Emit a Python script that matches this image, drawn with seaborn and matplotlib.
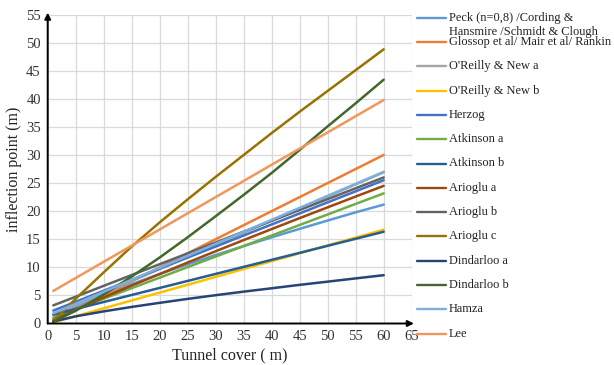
import matplotlib
matplotlib.use("Agg")
import matplotlib.pyplot as plt
import seaborn as sns
import pandas as pd
from matplotlib.lines import Line2D

# ---------------- data ----------------
tunnel_cover = [1, 5, 10, 15, 20, 25, 30, 35, 40, 45, 50, 55, 60]

peck        = [0.80, 2.91, 5.06, 7.00, 8.81, 10.53, 12.20, 13.78, 15.34, 16.85, 18.33, 19.79, 21.16]
glossop     = [0.50, 2.50, 5.00, 7.50, 10.00, 12.50, 15.00, 17.50, 20.00, 22.50, 25.00, 27.50, 30.00]
oreilly_a   = [1.53, 3.25, 5.40, 7.55, 9.70, 11.85, 14.00, 16.15, 18.30, 20.45, 22.60, 24.75, 26.90]
oreilly_b   = [0.18, 1.30, 2.70, 4.10, 5.50, 6.90, 8.30, 9.70, 11.10, 12.50, 13.90, 15.30, 16.70]
herzog      = [2.30, 3.87, 5.84, 7.80, 9.77, 11.74, 13.70, 15.67, 17.63, 19.60, 21.57, 23.53, 25.50]
atkinson_a  = [1.04, 2.54, 4.41, 6.29, 8.16, 10.04, 11.91, 13.79, 15.66, 17.54, 19.41, 21.29, 23.16]
atkinson_b  = [1.58, 2.58, 3.83, 5.08, 6.33, 7.58, 8.83, 10.08, 11.33, 12.58, 13.83, 15.08, 16.33]
arioglu_a   = [0.54, 2.43, 4.63, 6.75, 8.80, 10.86, 12.86, 14.85, 16.81, 18.76, 20.68, 22.60, 24.50]
arioglu_b   = [3.23, 4.77, 6.70, 8.63, 10.56, 12.49, 14.42, 16.35, 18.28, 20.21, 22.14, 24.07, 26.00]
arioglu_c   = [0.50, 4.40, 9.10, 13.70, 18.00, 22.10, 26.10, 30.00, 33.90, 37.70, 41.40, 45.10, 48.80]
dindarloo_a = [0.37, 1.27, 2.16, 2.95, 3.68, 4.38, 5.04, 5.67, 6.27, 6.88, 7.45, 8.03, 8.60]
dindarloo_b = [0.33, 2.26, 5.16, 8.36, 11.75, 15.35, 19.10, 22.90, 26.80, 30.90, 35.10, 39.20, 43.40]
hamza       = [1.80, 3.51, 5.64, 7.78, 9.92, 12.05, 14.19, 16.32, 18.46, 20.59, 22.73, 24.86, 27.00]
lee         = [5.80, 8.10, 10.98, 13.86, 16.74, 19.62, 22.50, 25.38, 28.26, 31.14, 34.02, 36.90, 39.78]

series_names = [
    "Peck (n=0,8) /Cording &\nHansmire /Schmidt & Clough",
    "Glossop et al/ Mair et al/ Rankin",
    "O'Reilly & New a",
    "O'Reilly & New b",
    "Herzog",
    "Atkinson a",
    "Atkinson b",
    "Arioglu a",
    "Arioglu b",
    "Arioglu c",
    "Dindarloo a",
    "Dindarloo b",
    "Hamza",
    "Lee",
]
series_values = [peck, glossop, oreilly_a, oreilly_b, herzog, atkinson_a,
                 atkinson_b, arioglu_a, arioglu_b, arioglu_c, dindarloo_a,
                 dindarloo_b, hamza, lee]
series_colors = ["#5B9BD5", "#ED7D31", "#A5A5A5", "#FFC000", "#4472C4",
                 "#70AD47", "#255E91", "#9E480E", "#636363", "#997300",
                 "#264478", "#43682B", "#7CAFDD", "#F1975A"]

x_ticks = list(range(0, 66, 5))
y_ticks = list(range(0, 56, 5))

# ---------------- table ----------------
rows = []
for name, vals in zip(series_names, series_values):
    for xv, yv in zip(tunnel_cover, vals):
        rows.append({"cover": xv, "inflection": yv, "series": name})
df = pd.DataFrame(rows)
palette = dict(zip(series_names, series_colors))

# ---------------- figure ----------------
sns.set_style("whitegrid")
plt.rcParams["font.family"] = ["Liberation Serif", "DejaVu Serif"]

W, H = 614, 365
fig = plt.figure(figsize=(W / 100, H / 100), dpi=100)
left, right, bottom, top = 47.7, 411.7, 323.5, 14.5
ax = fig.add_axes([left / W, 1 - bottom / H, (right - left) / W, (bottom - top) / H])

sns.lineplot(data=df, x="cover", y="inflection", hue="series",
             hue_order=series_names, palette=palette, estimator=None,
             sort=True, linewidth=1.8, legend=False, ax=ax)

ax.set_xlim(0, 65)
ax.set_ylim(0, 55)
ax.set_xticks(x_ticks)
ax.set_yticks(y_ticks)
ax.grid(True, color="#D9D9D9", linewidth=0.9)
ax.tick_params(axis="both", length=0, labelsize=10.5, colors="#333333", pad=5)
for s in ax.spines.values():
    s.set_visible(False)

# axes with arrows
ax.annotate("", xy=(0, 1.006), xytext=(0, 0), xycoords="axes fraction",
            arrowprops=dict(arrowstyle="-|>", color="black", lw=1.4,
                            mutation_scale=9, shrinkA=0, shrinkB=0))
ax.annotate("", xy=(1.006, 0), xytext=(0, 0), xycoords="axes fraction",
            arrowprops=dict(arrowstyle="-|>", color="black", lw=1.4,
                            mutation_scale=9, shrinkA=0, shrinkB=0))

ax.set_xlabel("Tunnel cover ( m)", fontsize=11.5, color="#222222", labelpad=3)
ax.set_ylabel("inflection point (m)", fontsize=11.5, color="#222222", labelpad=3)

# ---------------- legend (manual) ----------------
y0 = 42.0
dy = 24.3
for i, (name, col) in enumerate(zip(series_names, series_colors)):
    yc = (y0 + (i - 1) * dy) if i > 0 else 17.5
    fy = 1 - yc / H
    fig.add_artist(Line2D([417 / W, 446 / W], [fy, fy], color=col, lw=1.7))
    for j, line in enumerate(name.split("\n")):
        fig.text(449 / W, 1 - (yc + j * 14) / H, line, fontsize=8.9,
                 color="#222222", va="center", ha="left")

fig.savefig("out.png", dpi=100)
